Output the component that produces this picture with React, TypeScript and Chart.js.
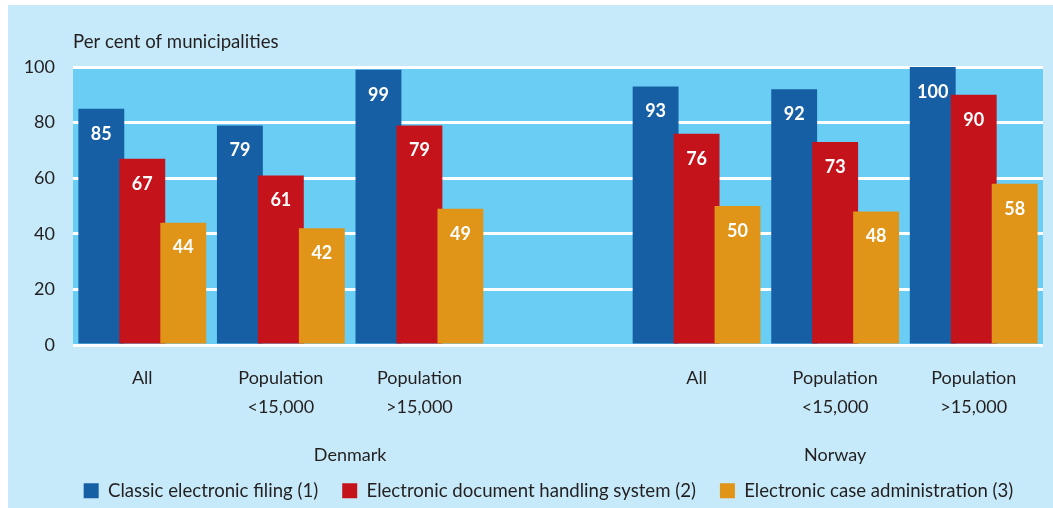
import React, { useEffect, useRef } from "react";
import { Chart, registerables } from "chart.js";

Chart.register(...registerables);

const categories: (string | string[])[] = [
  ["All"],
  ["Population", "<15,000"],
  ["Population", ">15,000"],
  "",
  ["All"],
  ["Population", "<15,000"],
  ["Population", ">15,000"],
];
const countries = ["Denmark", "Norway"];
const classicFiling = [85, 79, 99, null, 93, 92, 100];
const documentHandling = [67, 61, 79, null, 76, 73, 90];
const caseAdministration = [44, 42, 49, null, 50, 48, 58];
const seriesNames = [
  "Classic electronic filing (1)",
  "Electronic document handling system (2)",
  "Electronic case administration (3)",
];
const yTicks = [0, 20, 40, 60, 80, 100];
const yTitle = "Per cent of municipalities";

const COLORS = ["#175fa5", "#c4131b", "#e09418"];
const FONT = "Lato";
const TEXT = "#231f20";

export default function App() {
  const ref = useRef<HTMLCanvasElement | null>(null);

  useEffect(() => {
    const canvas = ref.current;
    if (!canvas) return;

    const bgPlugin = {
      id: "bgPlugin",
      beforeDraw(chart: any) {
        const { ctx, chartArea } = chart;
        ctx.save();
        ctx.fillStyle = "#c6eaf9";
        ctx.fillRect(0, 0, chart.width, chart.height);
        ctx.fillStyle = "#6acef4";
        ctx.fillRect(chartArea.left, chartArea.top, chartArea.right - chartArea.left, chartArea.bottom - chartArea.top);
        ctx.restore();
      },
    };

    // shift the legend slightly right, as in the reference
    const legendShift = {
      id: "legendShift",
      afterLayout(chart: any) {
        if (chart.legend) {
          chart.legend.left += 23;
          chart.legend.right += 23;
        }
      },
    };

    // draw datasets in forward order so later series overlap earlier ones
    const orderPlugin = {
      id: "orderPlugin",
      beforeDatasetsDraw(chart: any) {
        for (let i = 0; i < chart.data.datasets.length; i++) {
          const meta = chart.getDatasetMeta(i);
          if (meta.visible) meta.controller.draw();
        }
        return false;
      },
    };

    const labelPlugin = {
      id: "labelPlugin",
      afterDraw(chart: any) {
        const { ctx, chartArea } = chart;
        ctx.save();
        ctx.fillStyle = "#ffffff";
        ctx.font = `bold 18px ${FONT}`;
        ctx.textAlign = "center";
        ctx.textBaseline = "middle";
        chart.data.datasets.forEach((ds: any, i: number) => {
          const meta = chart.getDatasetMeta(i);
          meta.data.forEach((el: any, j: number) => {
            const v = ds.data[j];
            if (v == null) return;
            ctx.fillText(String(v), el.x, el.y + 25);
          });
        });
        const x = chart.scales.x;
        ctx.fillStyle = TEXT;
        ctx.font = `18.6px ${FONT}`;
        ctx.textAlign = "left";
        ctx.fillText(yTitle, chartArea.left, 37);
        ctx.font = `18px ${FONT}`;
        ctx.textAlign = "center";
        const dk = (x.getPixelForValue(0) + x.getPixelForValue(3)) / 2;
        const no = x.getPixelForValue(5);
        ctx.fillText(countries[0], dk, 450);
        ctx.fillText(countries[1], no, 450);
        ctx.restore();
      },
    };

    const chart = new Chart(canvas, {
      type: "bar",
      data: {
        labels: categories,
        datasets: [classicFiling, documentHandling, caseAdministration].map((d, i) => ({
          label: seriesNames[i],
          data: d,
          backgroundColor: COLORS[i],
          borderWidth: 0,
          categoryPercentage: 0.887,
          barPercentage: 1.12,
        })),
      },
      options: {
        responsive: false,
        animation: false,
        devicePixelRatio: 1,
        layout: { padding: { top: 62, right: 10, left: 0, bottom: -2 } },
        plugins: {
          title: { display: false },
          tooltip: { enabled: false },
          legend: {
            display: true,
            position: "bottom",
            labels: {
              boxWidth: 15,
              boxHeight: 15,
              padding: 24,
              color: TEXT,
              font: { family: FONT, size: 18.6 },
            },
          },
        },
        scales: {
          x: {
            grid: { display: false, drawTicks: false },
            border: { display: false },
            ticks: {
              color: TEXT,
              font: { family: FONT, size: 18, lineHeight: 1.65 },
              padding: 18,
              maxRotation: 0,
              autoSkip: false,
            },
            afterFit(scale: any) {
              scale.height = 112.4;
            },
          },
          y: {
            min: 0,
            max: 100,
            afterBuildTicks(scale: any) {
              scale.ticks = yTicks.map((v) => ({ value: v }));
            },
            grid: { color: "#ffffff", lineWidth: 3, drawTicks: false },
            border: { display: false },
            ticks: {
              color: TEXT,
              font: { family: FONT, size: 18 },
              padding: 18,
            },
            afterFit(scale: any) {
              scale.width = 65;
            },
          },
        },
      },
      plugins: [bgPlugin, legendShift, orderPlugin, labelPlugin],
    } as any);

    return () => chart.destroy();
  }, []);

  return (
    <div style={{ position: "absolute", left: 8, top: 5, width: 1045, height: 503 }}>
      <canvas ref={ref} width={1045} height={503} style={{ width: 1045, height: 503, display: "block" }} />
    </div>
  );
}
